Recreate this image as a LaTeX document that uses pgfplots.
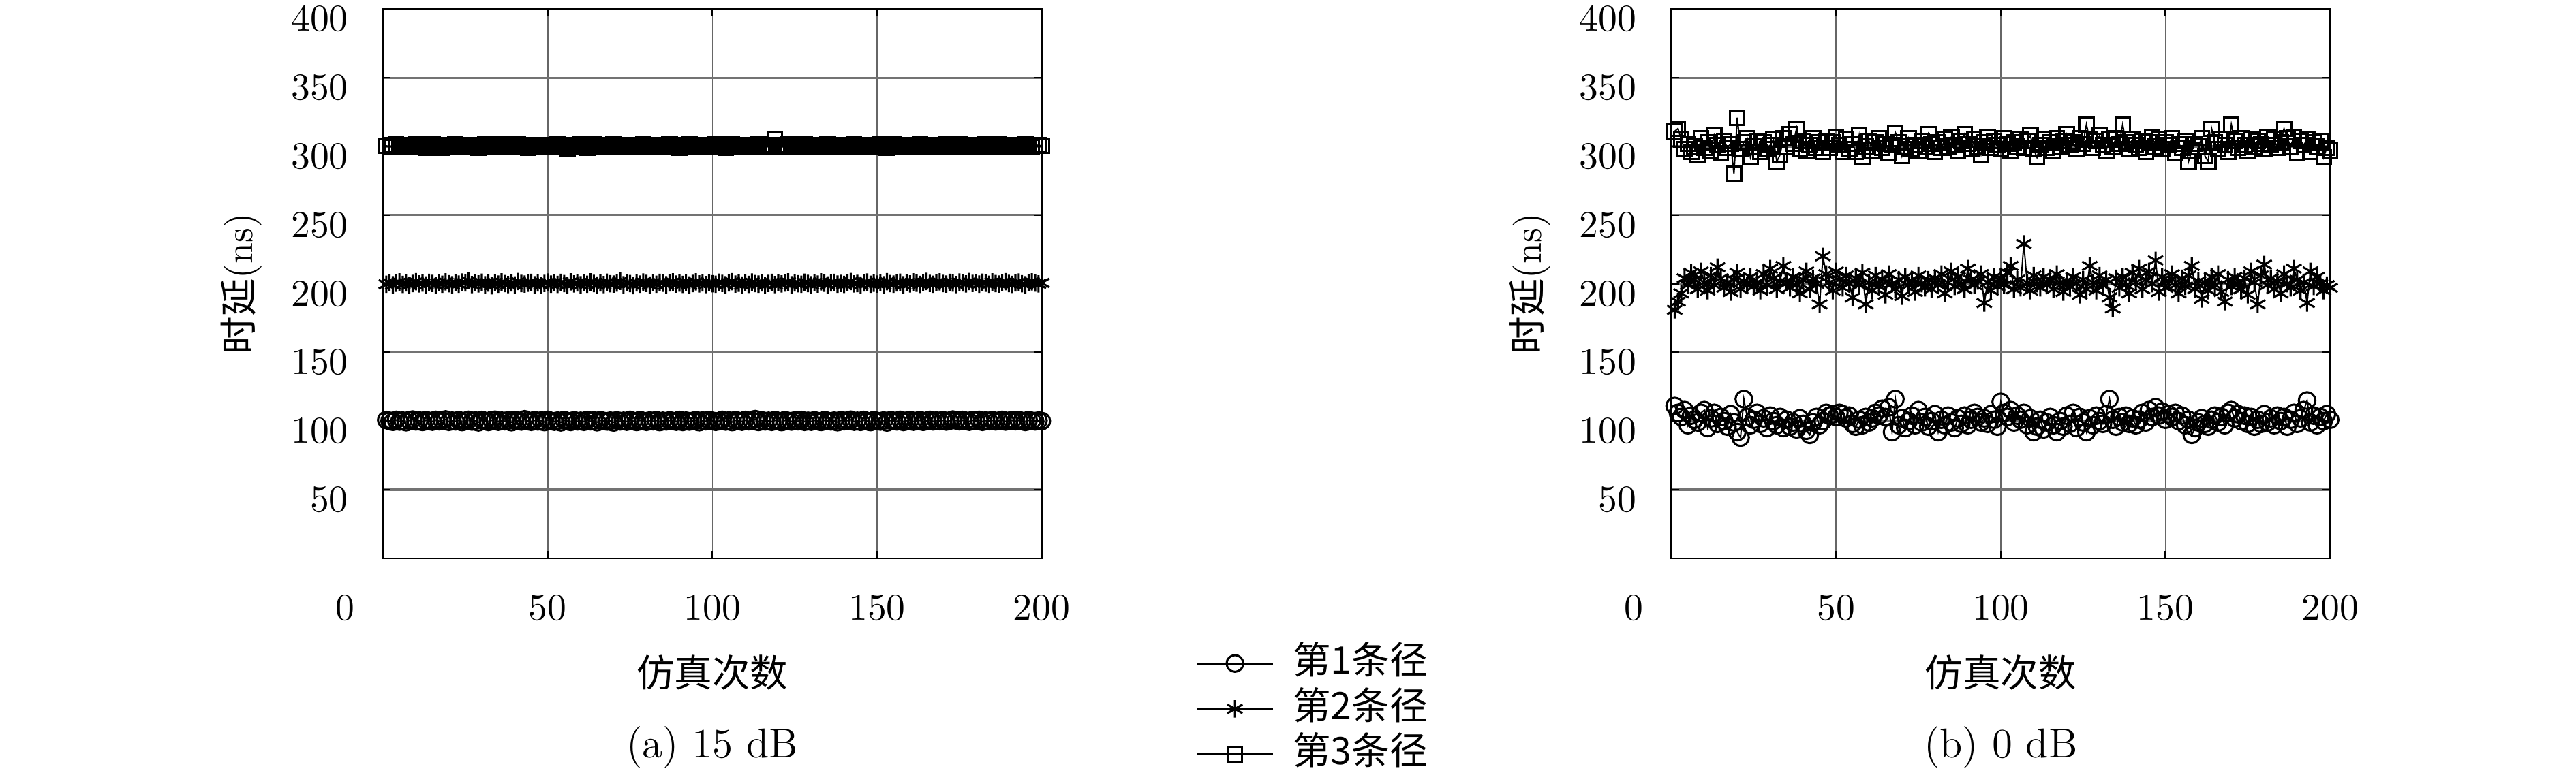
\documentclass[border=0pt]{standalone}
\usepackage{fontspec}
\usepackage{pgfplots}
\usepackage{pgfplotstable}
\pgfplotsset{compat=1.18}
\usetikzlibrary{plotmarks}
\newfontfamily\cjk{Noto Sans CJK SC}
\pgfplotstableread{
x a1 a2 a3 b1 b2 b3
1 100.8 199.6 300.5 111 181 311
2 100.2 200.9 299.4 106 187 313
3 99.5 199.2 300.8 103 193 305
4 100.9 200.4 301.2 108 204 298
5 99.7 201.3 299.8 97 199 302
6 100.3 199.5 300.2 104 208 296
7 99.2 200.7 300.9 101 203 300
8 100.6 198.9 299.3 99 196 294
9 101.1 200.2 300.6 106 209 306
10 99.8 201.5 301.4 108 201 299
11 100.4 199.9 299.7 95 195 303
12 99.4 200.5 300.3 102 206 297
13 100.7 199.1 298.9 106 199 308
14 100.1 201.0 300.8 98 212 301
15 99.6 200.3 301.6 103 204 295
16 100.9 198.8 299.9 100 197 304
17 99.9 200.8 300.4 96 201 299
18 100.5 199.6 299.2 105 194 302
19 101.2 201.4 300.9 99 203 280
20 99.5 200.0 300.1 92 208 321
21 100.3 199.3 299.6 88 196 298
22 99.8 200.9 301.3 116 202 303
23 100.6 199.7 300.2 103 199 306
24 99.3 201.2 299.5 97 205 292
25 100.2 200.6 300.7 101 198 300
26 100.9 202.3 299.8 106 201 304
27 99.7 199.4 301.0 98 195 296
28 100.4 200.8 300.3 102 207 303
29 99.1 199.9 299.1 95 199 298
30 100.8 201.1 300.6 104 211 301
31 100.0 199.2 301.5 100 204 305
32 99.4 200.5 300.0 97 196 289
33 100.7 198.6 299.4 103 202 294
34 101.0 200.9 300.8 95 213 306
35 99.6 199.7 299.7 101 201 300
36 100.3 201.3 301.2 96 197 309
37 99.9 200.1 300.4 99 205 302
38 100.5 199.4 299.6 94 199 313
39 99.2 200.7 300.9 102 193 298
40 100.8 199.1 300.2 98 203 304
41 100.1 201.6 301.8 93 209 297
42 99.7 200.2 299.5 90 196 301
43 101.3 199.8 300.3 99 204 306
44 100.2 200.4 299.0 103 200 299
45 99.5 201.0 300.7 97 185 303
46 100.6 199.3 301.1 100 220 296
47 99.8 200.6 300.0 106 207 304
48 100.4 198.9 299.8 104 201 299
49 99.3 200.3 300.6 105 195 303
50 100.9 201.2 301.0 103 209 307
51 100.1 199.7 299.3 106 203 301
52 99.6 200.8 300.5 105 197 296
53 100.3 199.5 301.4 102 206 305
54 99.1 201.0 299.9 104 200 298
55 100.7 200.1 300.2 98 190 302
56 100.0 198.8 298.8 96 204 296
57 99.4 201.4 300.9 101 199 308
58 100.5 199.9 300.1 97 208 292
59 99.8 200.6 299.6 103 185 300
60 100.2 199.2 301.3 99 201 304
61 99.5 200.9 300.4 102 195 297
62 100.8 199.6 299.2 106 206 303
63 99.9 201.3 300.7 104 198 306
64 100.4 200.2 301.6 109 203 299
65 99.2 199.0 299.8 103 192 302
66 100.6 200.7 300.3 110 207 295
67 100.1 199.4 300.9 92 200 301
68 99.7 201.1 299.4 116 196 310
69 100.3 200.0 300.0 97 203 303
70 99.0 199.8 301.2 102 191 293
71 100.5 200.5 300.5 95 205 300
72 99.8 201.8 299.7 100 199 306
73 100.2 199.3 300.8 104 202 298
74 99.6 200.9 301.0 97 194 301
75 100.9 200.1 299.5 108 206 297
76 100.0 198.7 300.2 99 200 304
77 99.4 200.6 300.6 103 197 300
78 100.7 199.7 299.9 96 203 309
79 100.1 201.2 301.4 100 196 302
80 99.5 200.3 300.1 105 204 296
81 100.4 199.0 299.3 92 199 303
82 99.9 200.8 300.7 101 207 299
83 100.6 199.6 301.1 97 193 305
84 99.3 201.0 300.3 104 201 300
85 100.2 200.4 299.6 99 209 307
86 99.8 199.2 300.8 95 198 301
87 100.5 200.7 301.5 102 205 297
88 100.0 201.3 299.8 98 200 304
89 99.6 199.8 300.4 104 196 309
90 100.8 200.5 299.1 97 211 302
91 99.4 199.5 300.9 101 203 298
92 100.3 200.9 300.2 106 199 305
93 99.7 199.1 301.3 103 202 300
94 100.1 200.2 299.7 99 207 294
95 100.6 201.4 300.5 102 186 303
96 99.2 199.9 300.0 98 201 307
97 100.4 200.6 301.0 105 195 299
98 99.9 199.4 299.4 101 205 304
99 100.7 200.8 300.7 96 198 301
100 100.2 200.0 300.2 114 204 298
101 99.5 199.6 301.2 106 199 306
102 100.0 201.1 299.9 103 208 302
103 100.9 200.3 300.4 108 213 297
104 99.7 199.2 299.2 99 196 303
105 100.4 200.7 300.8 104 203 300
106 99.3 201.5 301.5 101 197 305
107 100.6 199.8 300.3 106 229 299
108 100.1 200.4 299.6 97 201 304
109 99.6 199.0 300.9 102 195 308
110 100.8 200.9 301.1 92 206 298
111 99.9 199.5 300.0 96 200 292
112 100.3 201.2 299.5 101 197 301
113 101.4 200.1 300.6 94 205 305
114 99.4 199.7 301.3 99 199 299
115 100.5 200.6 300.2 103 203 303
116 99.8 198.9 299.8 97 196 297
117 100.2 200.3 300.7 92 207 306
118 99.5 201.0 301.0 100 201 300
119 100.7 199.4 305.5 96 194 304
120 100.0 200.8 300.1 104 202 309
121 99.3 199.9 299.4 98 198 301
122 100.6 200.5 300.9 106 205 303
123 100.1 201.3 301.6 95 200 298
124 99.7 199.2 300.3 103 192 306
125 100.4 200.7 299.9 99 203 302
126 99.9 200.0 300.5 92 196 316
127 100.8 199.6 300.0 102 213 305
128 99.5 201.1 301.2 97 201 299
129 100.2 200.2 299.6 104 195 304
130 99.6 199.3 300.8 100 206 308
131 100.5 200.9 301.1 98 199 301
132 100.0 199.8 300.3 105 203 297
133 99.4 201.4 299.3 116 190 305
134 100.7 200.4 300.7 101 182 300
135 100.1 199.1 301.4 96 204 306
136 99.8 200.6 300.1 103 197 302
137 100.3 201.0 299.8 99 205 316
138 99.2 199.7 300.6 104 199 303
139 100.6 200.3 301.0 98 193 298
140 99.9 199.5 300.2 102 208 305
141 100.4 200.8 299.5 97 201 301
142 101.0 201.6 300.9 101 211 299
143 99.6 199.9 301.3 106 196 304
144 100.2 200.2 300.0 99 203 296
145 99.5 199.0 299.4 108 209 303
146 100.8 200.7 300.6 103 200 307
147 100.0 201.2 301.1 110 217 300
148 99.3 199.6 300.4 104 194 305
149 100.6 200.4 299.7 107 205 298
150 100.1 199.8 300.8 101 197 303
151 99.7 200.9 301.5 105 202 301
152 100.4 199.3 300.1 103 207 306
153 99.0 201.5 299.2 106 199 295
154 100.5 200.1 300.9 100 193 302
155 100.2 199.7 301.2 104 204 299
156 99.8 200.6 300.3 97 198 304
157 100.9 201.1 299.8 101 206 289
158 99.4 199.2 300.6 90 213 297
159 100.3 200.8 301.0 95 196 302
160 100.8 199.9 300.2 99 202 300
161 99.6 201.3 299.5 102 189 306
162 100.1 200.4 300.7 98 201 293
163 100.7 199.5 301.4 96 195 289
164 99.5 200.9 300.0 101 205 313
165 100.2 201.7 299.3 104 199 303
166 100.9 200.3 300.8 99 207 298
167 99.8 199.6 301.1 103 194 305
168 100.4 200.9 300.4 97 187 301
169 100.0 201.4 299.9 106 203 296
170 100.6 200.2 300.5 108 198 316
171 99.7 199.8 301.3 102 205 304
172 100.3 201.0 300.1 105 200 299
173 101.1 200.5 299.6 100 196 306
174 100.5 199.4 300.9 104 204 301
175 99.9 201.2 301.5 98 192 297
176 100.8 200.7 300.2 103 209 305
177 100.2 199.9 299.8 96 201 300
178 99.6 201.6 300.6 101 185 304
179 100.7 200.3 301.0 98 206 302
180 100.1 200.8 300.3 105 214 298
181 100.9 199.7 299.5 99 199 307
182 99.5 201.1 300.8 102 204 301
183 100.4 200.4 301.2 97 196 305
184 100.0 199.6 300.0 104 202 299
185 100.6 201.3 299.7 100 193 303
186 99.8 200.1 300.9 103 207 313
187 100.3 199.8 301.4 96 200 306
188 100.9 200.9 300.2 101 197 300
189 99.7 201.5 299.9 106 211 307
190 100.2 200.2 300.6 98 203 295
191 100.5 199.5 301.1 102 195 304
192 99.9 200.7 300.4 108 201 301
193 100.6 201.2 299.6 115 186 305
194 100.1 200.0 300.8 99 209 296
195 99.4 199.3 301.3 104 198 303
196 100.7 200.8 300.0 97 205 300
197 100.2 201.4 299.7 103 200 304
198 99.8 200.5 300.5 100 195 292
199 100.4 199.9 301.0 105 199 299
200 100.0 200.6 300.3 101 197 297
}\data
\pgfplotsset{
  myaxis/.style={
    scale only axis, width=173.9pt, height=145.1pt,
    anchor=south west, clip=false,
    xmin=0, xmax=200, ymin=0, ymax=400,
    xtick={50,100,150,200}, ytick={50,100,...,400},
    extra x ticks={0},
    extra x tick style={grid=none, xticklabel style={xshift=-10pt}},
    grid=major,
    x grid style={black!60, line width=0.3pt},
    y grid style={black!55, line width=0.6pt},
    axis line style={black, line width=0.5pt},
    tick style={black, line width=0.4pt},
    major tick length=2pt,
    tick align=inside,
    xticklabel style={yshift=-6.4pt},
    yticklabel style={xshift=-5.7pt, yshift=-2.6pt},
    xlabel={\cjk 仿真次数},
    xlabel style={at={(axis description cs:0.5,0)}, anchor=center, yshift=-30.2pt},
    ylabel={\cjk 时延\normalfont(ns)},
    ylabel style={at={(axis description cs:-0.215,0.5)}, anchor=center, rotate=0},
    every axis plot/.append style={black, line width=0.35pt, mark options={solid, line width=0.55pt}},
    legend image code/.code={\draw[mark repeat=2,mark phase=2,##1] plot coordinates {(0pt,0pt) (10pt,0pt) (20pt,0pt)};},
  },
  p1/.style={mark=o, mark size=2.2pt},
  p2/.style={mark=asterisk, mark size=2.3pt},
  p3/.style={mark=square, mark size=1.9pt},
}
\begin{document}
\begin{tikzpicture}
\path[use as bounding box] (0,0) rectangle (680pt,204pt);
\begin{axis}[myaxis, at={(101.1pt,56.5pt)},
  legend style={at={(axis description cs:1,0)}, anchor=north west, xshift=40.5pt, yshift=-21.8pt,
    draw=none, fill=none, inner sep=0pt, row sep=0.5pt,
    nodes={inner sep=1pt, text height=7.5pt, text depth=2pt, font=\cjk},
    every legend image post/.style={line width=0.6pt}},
  legend cell align=left]
\addplot[p1] table[x=x, y=a1] {\data};
\addplot[p2] table[x=x, y=a2] {\data};
\addplot[p3] table[x=x, y=a3] {\data};
\legend{\hspace{4pt}第1条径,\hspace{4pt}第2条径,\hspace{4pt}第3条径}
\node at (axis description cs:0.5,0) [yshift=-49.8pt, font=\fontsize{11}{13}\selectfont] {(a) 15 dB};
\end{axis}
\begin{axis}[myaxis, at={(441.2pt,56.5pt)}]
\addplot[p1] table[x=x, y=b1] {\data};
\addplot[p2] table[x=x, y=b2] {\data};
\addplot[p3] table[x=x, y=b3] {\data};
\node at (axis description cs:0.5,0) [yshift=-49.8pt, font=\fontsize{11}{13}\selectfont] {(b) 0 dB};
\end{axis}
\end{tikzpicture}
\end{document}
